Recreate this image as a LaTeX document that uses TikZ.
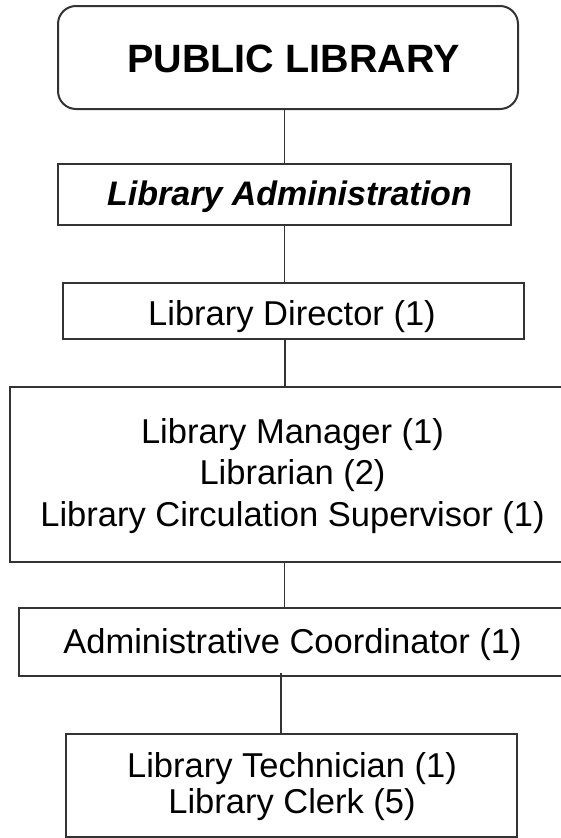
\documentclass[tikz,border=0pt]{standalone}
\usepackage{fontspec}
\setmainfont{Liberation Sans}
\definecolor{edge}{HTML}{333333}
\begin{document}
\begin{tikzpicture}[x=1pt,y=-1pt,
  boxstyle/.style={draw=edge,line width=1.4pt,inner sep=0pt,outer sep=0pt,fill=none},
  labelstyle/.style={inner sep=0pt,anchor=base,font=\fontsize{34.5}{40}\selectfont},
  connector/.style={draw=edge,line width=1.1pt}]
\useasboundingbox (0,0) rectangle (561,838);
% boxes
\node[boxstyle,line width=2pt,rounded corners=18pt,minimum width=460pt,minimum height=103pt] (pub) at (288,57.5) {};
\node[boxstyle,minimum width=453pt,minimum height=61pt] (adm) at (284.5,194.5) {};
\node[boxstyle,minimum width=461pt,minimum height=56pt] (dir) at (293.5,311) {};
\node[boxstyle,minimum width=556pt,minimum height=175pt] (mgr) at (288,474.5) {};
\node[boxstyle,minimum width=547pt,minimum height=68pt] (crd) at (292.5,642) {};
\node[boxstyle,minimum width=451pt,minimum height=103pt] (tec) at (291.5,785.5) {};
% labels
\node[labelstyle,font=\fontsize{39.5}{44}\selectfont\bfseries] (tpub) at (293.5,72) {PUBLIC LIBRARY};
\node[labelstyle,font=\fontsize{34}{40}\selectfont\bfseries\itshape] (tadm) at (289.5,205) {Library Administration};
\node[labelstyle] (tdir) at (292,325) {Library Director (1)};
\node[labelstyle] (tmgr1) at (292.5,443) {Library Manager (1)};
\node[labelstyle] (tmgr2) at (292.5,484.5) {Librarian (2)};
\node[labelstyle] (tmgr3) at (292.5,526) {Library Circulation Supervisor (1)};
\node[labelstyle] (tcrd) at (292.5,653) {Administrative Coordinator (1)};
\node[labelstyle] (ttec1) at (292,777) {Library Technician (1)};
\node[labelstyle] (ttec2) at (292,813) {Library Clerk (5)};
% connectors
\draw[connector] (pub.south -| adm.north) -- (adm.north);
\draw[connector] (adm.south) -- (adm.south |- dir.north);
\draw[connector] ([xshift=0.5pt]adm.south |- dir.south) -- ([xshift=0.5pt]adm.south |- mgr.north);
\draw[connector] (adm.south |- mgr.south) -- (adm.south |- crd.north);
\draw[connector] ([xshift=-3.5pt,yshift=3pt]adm.south |- crd.south) -- ([xshift=-3.5pt]adm.south |- tec.north);
\end{tikzpicture}
\end{document}
